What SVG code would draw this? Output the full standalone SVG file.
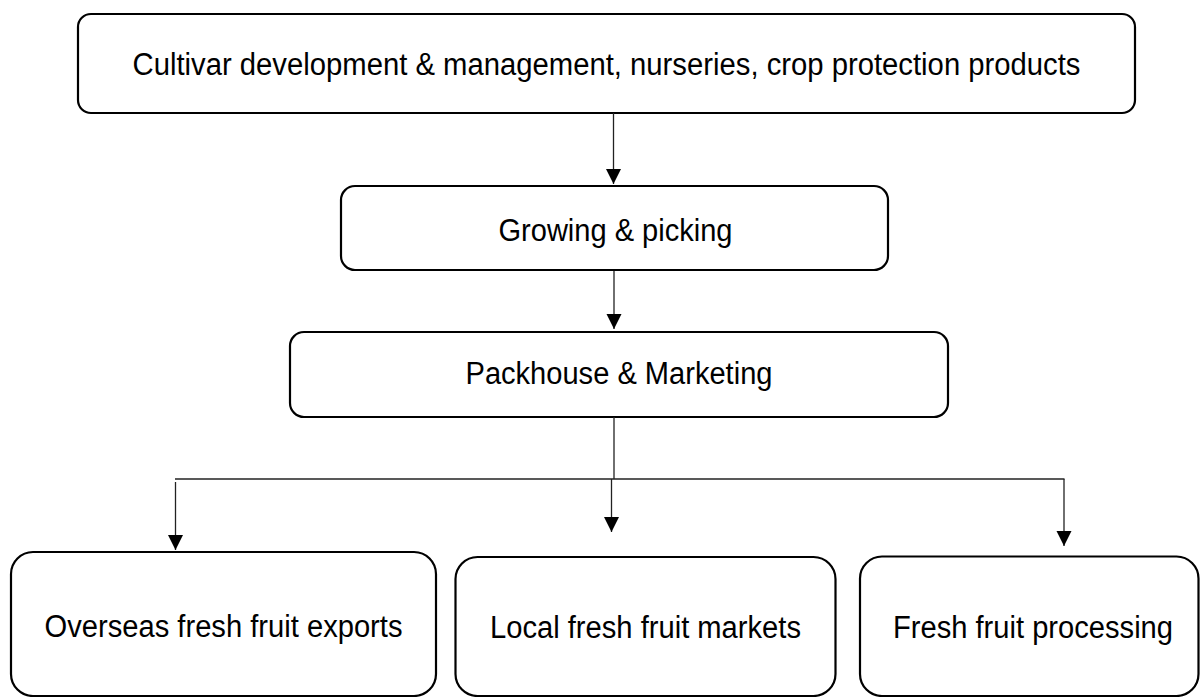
<svg xmlns="http://www.w3.org/2000/svg" width="1200" height="697" viewBox="0 0 1200 697">
  <style>
    .box { fill: #ffffff; stroke: #000000; stroke-width: 2.2; }
    .label { font-family: "Liberation Sans", Arial, sans-serif; font-size: 31px; fill: #000000; text-anchor: middle; }
    .link { fill: none; stroke: #222222; stroke-width: 1.3; }
  </style>
  <defs>
    <marker id="arrow" markerUnits="userSpaceOnUse" markerWidth="16" markerHeight="16" refX="15" refY="7.5" orient="auto">
      <path d="M0,0 L15,7.5 L0,15 z" fill="#000000"/>
    </marker>
  </defs>
  <rect width="1200" height="697" fill="#ffffff"/>

  <!-- supply chain stages -->
  <g id="node-cultivar">
    <rect class="box" x="78" y="14" width="1057" height="99" rx="13"/>
    <text class="label" x="606.5" y="75" textLength="948" lengthAdjust="spacingAndGlyphs">Cultivar development &amp; management, nurseries, crop protection products</text>
  </g>
  <g id="node-growing">
    <rect class="box" x="341" y="186" width="547" height="84" rx="14"/>
    <text class="label" x="615.5" y="241" textLength="234" lengthAdjust="spacingAndGlyphs">Growing &amp; picking</text>
  </g>
  <g id="node-packhouse">
    <rect class="box" x="290" y="332" width="658" height="85" rx="14"/>
    <text class="label" x="619" y="384" textLength="307" lengthAdjust="spacingAndGlyphs">Packhouse &amp; Marketing</text>
  </g>
  <g id="node-exports">
    <rect class="box" x="11" y="552" width="425" height="144" rx="22"/>
    <text class="label" x="223.5" y="637" textLength="358" lengthAdjust="spacingAndGlyphs">Overseas fresh fruit exports</text>
  </g>
  <g id="node-local">
    <rect class="box" x="455.5" y="557" width="380" height="139" rx="22"/>
    <text class="label" x="645.5" y="638" textLength="311" lengthAdjust="spacingAndGlyphs">Local fresh fruit markets</text>
  </g>
  <g id="node-processing">
    <rect class="box" x="860" y="556.5" width="338.5" height="139.5" rx="22"/>
    <text class="label" x="1033" y="638" textLength="280" lengthAdjust="spacingAndGlyphs">Fresh fruit processing</text>
  </g>

  <!-- flow connectors -->
  <g id="connectors">
    <line class="link" x1="613.5" y1="113" x2="613.5" y2="184" marker-end="url(#arrow)"/>
    <line class="link" x1="614" y1="271" x2="614" y2="329" marker-end="url(#arrow)"/>
    <line class="link" x1="614" y1="417" x2="614" y2="479"/>
    <line class="link" x1="175" y1="479" x2="1064.5" y2="479"/>
    <line class="link" x1="175.5" y1="482" x2="175.5" y2="550" marker-end="url(#arrow)"/>
    <line class="link" x1="611.5" y1="479" x2="611.5" y2="532" marker-end="url(#arrow)"/>
    <line class="link" x1="1064" y1="479" x2="1064" y2="546" marker-end="url(#arrow)"/>
  </g>
</svg>
